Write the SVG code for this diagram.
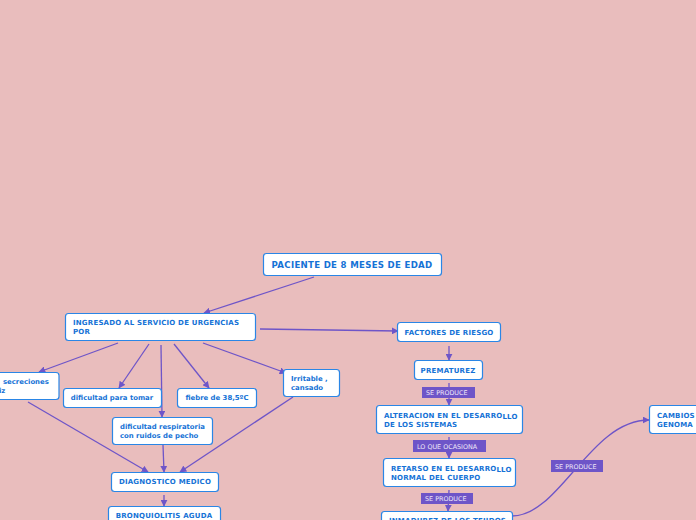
<svg xmlns="http://www.w3.org/2000/svg" width="696" height="520" viewBox="0 0 696 520">
<style>
.n rect{fill:#fff;stroke:#2a86e6;stroke-width:1.2}
.n text{font-family:"DejaVu Sans",Verdana,sans-serif;font-weight:bold;font-size:6.9px;fill:#1572d6}
.n text.u{font-size:7px;letter-spacing:0.2px}
.c path{fill:none;stroke:#6e55c8;stroke-width:1.3}
.l rect{fill:#6e55c8}
.l text{font-family:"DejaVu Sans",Verdana,sans-serif;font-size:6.4px;fill:#eee8f8}
</style>
<defs>
<marker id="a" viewBox="0 0 10 10" refX="9" refY="5" markerWidth="7" markerHeight="7" markerUnits="userSpaceOnUse" orient="auto"><path d="M0,0L10,5L0,10z" fill="#6e55c8"/></marker>
</defs>
<rect width="696" height="520" fill="#e9bdbd"/>
<g class="c">
<path d="M314,277L204,313" marker-end="url(#a)"/>
<path d="M260,329L398,331" marker-end="url(#a)"/>
<path d="M118,343L39,372" marker-end="url(#a)"/>
<path d="M149,344L119,388" marker-end="url(#a)"/>
<path d="M161,345L162,417" marker-end="url(#a)"/>
<path d="M174,344L209,388" marker-end="url(#a)"/>
<path d="M203,343L286,373" marker-end="url(#a)"/>
<path d="M28,402L148,472" marker-end="url(#a)"/>
<path d="M163,445L164,472" marker-end="url(#a)"/>
<path d="M293,397L180,472" marker-end="url(#a)"/>
<path d="M164,495L164,506" marker-end="url(#a)"/>
<path d="M449,346L449,360" marker-end="url(#a)"/>
<path d="M449,383L449,405" marker-end="url(#a)"/>
<path d="M449,437L449,458" marker-end="url(#a)"/>
<path d="M449,490L448,511" marker-end="url(#a)"/>
<path d="M512,516C560,516 590,420 649,420" marker-end="url(#a)"/>
</g>
<g class="l">
<rect x="422" y="387" width="53" height="11"/><text x="426" y="395">SE PRODUCE</text>
<rect x="413" y="440" width="73" height="12"/><text x="417" y="449">LO QUE OCASIONA</text>
<rect x="421" y="493" width="52" height="11"/><text x="425" y="501">SE PRODUCE</text>
<rect x="551" y="460" width="52" height="12"/><text x="555" y="469">SE PRODUCE</text>
</g>
<g id="paciente" class="n"><rect x="263.5" y="253.5" width="178" height="22" rx="3"/><text x="352" y="268" text-anchor="middle" style="font-size:8.6px;letter-spacing:0.3px">PACIENTE DE 8 MESES DE EDAD</text></g>
<g id="ingresado" class="n"><rect x="65.5" y="313.5" width="190" height="27" rx="3"/><text class="u" x="73" y="325">INGRESADO AL SERVICIO DE URGENCIAS</text><text class="u" x="73" y="334">POR</text></g>
<g id="secreciones" class="n"><rect x="-20" y="372.5" width="79" height="27" rx="3"/><text x="3" y="384">secreciones</text><text x="-1" y="393">iz</text></g>
<g id="tomar" class="n"><rect x="63.5" y="388.5" width="98" height="19" rx="3"/><text x="112" y="400" text-anchor="middle">dificultad para tomar</text></g>
<g id="fiebre" class="n"><rect x="177.5" y="388.5" width="79" height="19" rx="3"/><text x="217" y="400" text-anchor="middle">fiebre de 38,5ºC</text></g>
<g id="irritable" class="n"><rect x="283.5" y="369.5" width="56" height="27" rx="3"/><text x="291" y="381">Irritable ,</text><text x="291" y="390">cansado</text></g>
<g id="respiratoria" class="n"><rect x="112.5" y="417.5" width="100" height="27" rx="3"/><text x="120" y="429">dificultad respiratoria</text><text x="120" y="438">con ruidos de pecho</text></g>
<g id="diagnostico" class="n"><rect x="111.5" y="472.5" width="107" height="19" rx="3"/><text class="u" x="165" y="484" text-anchor="middle">DIAGNOSTICO MEDICO</text></g>
<g id="bronquiolitis" class="n"><rect x="108.5" y="506.5" width="112" height="20" rx="3"/><text class="u" x="164" y="518" text-anchor="middle">BRONQUIOLITIS AGUDA</text></g>
<g id="factores" class="n"><rect x="397.5" y="322.5" width="103" height="19" rx="3"/><text class="u" x="449" y="335" text-anchor="middle">FACTORES DE RIESGO</text></g>
<g id="prematurez" class="n"><rect x="414.5" y="360.5" width="68" height="19" rx="3"/><text class="u" x="448" y="373" text-anchor="middle">PREMATUREZ</text></g>
<g id="alteracion" class="n"><rect x="376.5" y="405.5" width="146" height="28" rx="3"/><text class="u" x="384" y="418">ALTERACION EN EL DESARRO<tspan dy="1">LLO</tspan></text><text class="u" x="384" y="427">DE LOS SISTEMAS</text></g>
<g id="retarso" class="n"><rect x="383.5" y="458.5" width="132" height="28" rx="3"/><text class="u" x="391" y="471">RETARSO EN EL DESARRO<tspan dy="1">LLO</tspan></text><text class="u" x="391" y="480">NORMAL DEL CUERPO</text></g>
<g id="inmadurez" class="n"><rect x="381.5" y="511.5" width="131" height="20" rx="3"/><text class="u" x="389" y="523">INMADUREZ DE LOS TEJIDOS</text></g>
<g id="cambios" class="n"><rect x="649.5" y="405.5" width="60" height="28" rx="3"/><text class="u" x="657" y="418">CAMBIOS EN EL</text><text class="u" x="657" y="427">GENOMA</text></g>
</svg>
